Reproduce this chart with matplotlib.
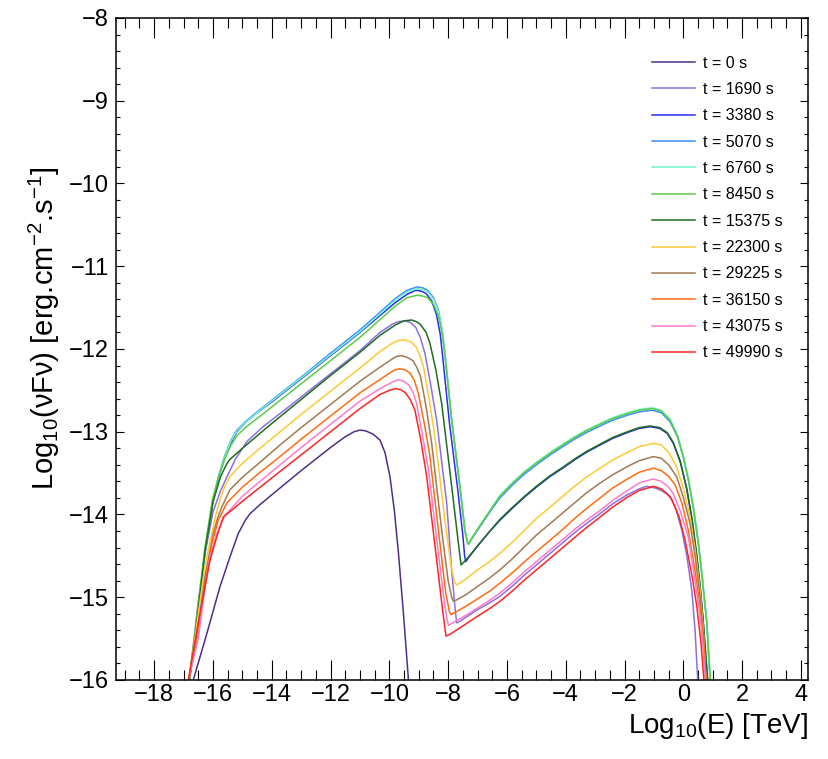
import numpy as np
import matplotlib
matplotlib.use('Agg')
import matplotlib.pyplot as plt
from matplotlib.ticker import MultipleLocator

# SED curves, log10(E/TeV) vs log10(nuFnu)
times = [0, 1690, 3380, 5070, 6760, 8450, 15375, 22300, 29225, 36150, 43075, 49990]
colors = ['#4F2D8C', '#8C6FE3', '#2B2BF5', '#3D8EFF', '#74F5C8', '#5ACD46',
          '#1E6E1E', '#FFC933', '#A27A52', '#FF6B12', '#FF7ACB', '#FF2424']

sed_0 = [(-16.67, -16.0), (-16.21, -15.44), (-15.76, -14.87), (-15.42, -14.51), (-15.14, -14.23),
         (-14.9, -14.07), (-14.74, -13.99), (-14.4, -13.88), (-13.72, -13.68), (-13.0, -13.47),
         (-12.0, -13.19), (-11.5, -13.06), (-11.2, -13.0), (-11.0, -12.98), (-10.8, -12.99),
         (-10.55, -13.03), (-10.32, -13.10), (-10.15, -13.25), (-9.98, -13.54), (-9.83, -13.95),
         (-9.69, -14.47), (-9.52, -15.2), (-9.35, -16.0)]

sed_1690 = [(-16.80, -16.0), (-16.50, -15.05), (-16.27, -14.47), (-16.0, -13.97), (-15.75, -13.72),
            (-15.53, -13.55), (-15.25, -13.34), (-14.85, -13.12), (-14.3, -12.94), (-13.72, -12.78),
            (-13.0, -12.58), (-12.0, -12.30), (-11.0, -12.02), (-10.32, -11.80), (-9.9, -11.70),
            (-9.7, -11.67), (-9.47, -11.66), (-9.28, -11.68), (-9.1, -11.74), (-8.95, -11.86),
            (-8.79, -12.05), (-8.6, -12.42), (-8.39, -12.86), (-8.05, -13.86), (-7.88, -14.67),
            (-7.78, -15.08), (-7.71, -15.31), (-7.6, -15.29), (-7.3, -15.22), (-7.0, -15.15),
            (-6.6, -15.07), (-6.24, -14.99), (-5.8, -14.86), (-5.4, -14.73), (-5.0, -14.61),
            (-4.53, -14.47), (-4.1, -14.34), (-3.7, -14.22), (-3.3, -14.11), (-2.83, -13.99),
            (-2.4, -13.87), (-1.9, -13.76), (-1.5, -13.69), (-1.25, -13.66), (-0.95, -13.68),
            (-0.7, -13.72), (-0.45, -13.78), (-0.25, -13.94), (-0.05, -14.19), (0.12, -14.5),
            (0.29, -14.92), (0.4, -15.4), (0.49, -16.0)]

sed_3380 = [(-16.80, -16.0), (-16.62, -15.5), (-16.45, -15.0), (-16.27, -14.45), (-16.0, -13.84),
            (-15.8, -13.54), (-15.6, -13.31), (-15.4, -13.14), (-15.19, -13.0), (-14.9, -12.89),
            (-14.5, -12.77), (-14.0, -12.64), (-13.0, -12.36), (-12.0, -12.08), (-11.0, -11.80),
            (-10.3, -11.59), (-9.8, -11.44), (-9.4, -11.34), (-9.1, -11.29), (-8.92, -11.30),
            (-8.75, -11.33), (-8.56, -11.42), (-8.40, -11.58), (-8.27, -11.82), (-8.19, -12.08),
            (-7.96, -12.88), (-7.68, -13.68), (-7.50, -14.25), (-7.44, -14.50), (-7.40, -14.57),
            (-7.3, -14.52), (-7.0, -14.38), (-6.6, -14.21), (-6.24, -14.07), (-5.8, -13.92),
            (-5.4, -13.79), (-5.0, -13.67), (-4.53, -13.54), (-4.1, -13.44), (-3.7, -13.34),
            (-3.3, -13.25), (-2.83, -13.16), (-2.4, -13.08), (-1.9, -13.01), (-1.5, -12.96),
            (-1.13, -12.94), (-0.8, -12.96), (-0.55, -13.02), (-0.34, -13.14), (-0.1, -13.36),
            (0.12, -13.70), (0.3, -14.07), (0.46, -14.51), (0.58, -14.9), (0.68, -15.31), (0.82, -16.0)]

sed_5070 = [(-16.80, -16.0), (-16.62, -15.5), (-16.45, -15.0), (-16.27, -14.44), (-16.0, -13.82),
            (-15.8, -13.52), (-15.6, -13.29), (-15.4, -13.11), (-15.19, -12.98), (-14.9, -12.88),
            (-14.5, -12.76), (-14.0, -12.62), (-13.0, -12.34), (-12.0, -12.05), (-11.0, -11.77),
            (-10.3, -11.55), (-9.8, -11.39), (-9.4, -11.29), (-9.05, -11.25), (-8.87, -11.26),
            (-8.7, -11.29), (-8.5, -11.38), (-8.33, -11.53), (-8.2, -11.78), (-8.11, -12.05),
            (-7.88, -12.86), (-7.6, -13.66), (-7.43, -14.19), (-7.35, -14.33), (-7.31, -14.36),
            (-7.22, -14.31), (-7.0, -14.19), (-6.6, -13.98), (-6.24, -13.80), (-5.8, -13.64),
            (-5.4, -13.51), (-5.0, -13.40), (-4.53, -13.28), (-4.1, -13.18), (-3.7, -13.09),
            (-3.3, -13.01), (-2.83, -12.93), (-2.4, -12.86), (-1.9, -12.80), (-1.5, -12.76),
            (-1.05, -12.74), (-0.75, -12.77), (-0.45, -12.88), (-0.2, -13.06), (0.0, -13.31),
            (0.17, -13.58), (0.34, -13.92), (0.5, -14.32), (0.63, -14.72), (0.8, -15.32), (0.91, -16.0)]

sed_6760 = [(-16.80, -16.0), (-16.62, -15.5), (-16.45, -15.0), (-16.27, -14.44), (-16.0, -13.82),
            (-15.8, -13.53), (-15.6, -13.30), (-15.4, -13.12), (-15.19, -12.99), (-14.9, -12.89),
            (-14.5, -12.77), (-14.0, -12.63), (-13.0, -12.35), (-12.0, -12.07), (-11.0, -11.79),
            (-10.3, -11.57), (-9.8, -11.41), (-9.4, -11.31), (-9.05, -11.27), (-8.87, -11.28),
            (-8.7, -11.31), (-8.5, -11.40), (-8.33, -11.55), (-8.2, -11.79), (-8.11, -12.05),
            (-7.88, -12.86), (-7.6, -13.66), (-7.43, -14.19), (-7.35, -14.33), (-7.31, -14.36),
            (-7.22, -14.30), (-7.0, -14.17), (-6.6, -13.96), (-6.24, -13.77), (-5.8, -13.61),
            (-5.4, -13.48), (-5.0, -13.37), (-4.53, -13.25), (-4.1, -13.15), (-3.7, -13.06),
            (-3.3, -12.98), (-2.83, -12.90), (-2.4, -12.83), (-1.9, -12.77), (-1.5, -12.73),
            (-1.05, -12.71), (-0.75, -12.74), (-0.45, -12.85), (-0.2, -13.04), (0.0, -13.29),
            (0.17, -13.56), (0.34, -13.90), (0.5, -14.30), (0.63, -14.70), (0.8, -15.30), (0.92, -16.0)]

sed_8450 = [(-16.82, -16.0), (-16.64, -15.5), (-16.47, -15.0), (-16.29, -14.44), (-16.02, -13.82),
            (-15.8, -13.54), (-15.6, -13.33), (-15.4, -13.17), (-15.19, -13.05), (-14.9, -12.95),
            (-14.5, -12.84), (-14.0, -12.70), (-13.0, -12.42), (-12.0, -12.14), (-11.0, -11.86),
            (-10.3, -11.64), (-9.8, -11.48), (-9.4, -11.38), (-9.05, -11.35), (-8.87, -11.36),
            (-8.7, -11.38), (-8.5, -11.46), (-8.33, -11.60), (-8.2, -11.83), (-8.11, -12.07),
            (-7.88, -12.86), (-7.6, -13.66), (-7.43, -14.19), (-7.35, -14.33), (-7.31, -14.36),
            (-7.22, -14.30), (-7.0, -14.18), (-6.6, -13.97), (-6.24, -13.78), (-5.8, -13.62),
            (-5.4, -13.49), (-5.0, -13.38), (-4.53, -13.26), (-4.1, -13.16), (-3.7, -13.07),
            (-3.3, -12.99), (-2.83, -12.91), (-2.4, -12.84), (-1.9, -12.78), (-1.5, -12.74),
            (-1.05, -12.72), (-0.75, -12.75), (-0.45, -12.86), (-0.2, -13.05), (0.0, -13.30),
            (0.17, -13.57), (0.34, -13.91), (0.5, -14.31), (0.63, -14.71), (0.8, -15.31), (0.92, -16.0)]

sed_15375 = [(-16.80, -16.0), (-16.62, -15.5), (-16.45, -15.0), (-16.27, -14.44), (-16.0, -13.85),
             (-15.75, -13.55), (-15.55, -13.40), (-15.44, -13.34), (-15.0, -13.20), (-14.0, -12.90),
             (-13.0, -12.61), (-12.0, -12.32), (-11.0, -12.04), (-10.3, -11.83), (-9.8, -11.71),
             (-9.5, -11.66), (-9.24, -11.65), (-9.08, -11.67), (-8.95, -11.70), (-8.75, -11.80),
             (-8.62, -11.93), (-8.42, -12.25), (-8.22, -12.66), (-7.88, -13.66), (-7.7, -14.2),
             (-7.6, -14.5), (-7.56, -14.61), (-7.45, -14.57), (-7.3, -14.51), (-7.0, -14.38),
             (-6.6, -14.21), (-6.24, -14.06), (-5.8, -13.91), (-5.4, -13.78), (-5.0, -13.66),
             (-4.53, -13.53), (-4.1, -13.43), (-3.7, -13.33), (-3.3, -13.24), (-2.83, -13.15),
             (-2.4, -13.07), (-1.9, -13.0), (-1.5, -12.95), (-1.13, -12.93), (-0.8, -12.95),
             (-0.55, -13.01), (-0.34, -13.13), (-0.1, -13.37), (0.12, -13.69), (0.3, -14.06),
             (0.46, -14.50), (0.58, -14.9), (0.68, -15.30), (0.83, -16.0)]

sed_22300 = [(-16.81, -16.0), (-16.5, -15.2), (-16.27, -14.62), (-16.04, -14.23), (-15.9, -14.0),
             (-15.76, -13.82), (-15.6, -13.66), (-15.42, -13.54), (-15.0, -13.38), (-14.5, -13.23),
             (-13.72, -13.0), (-13.0, -12.79), (-12.0, -12.51), (-11.0, -12.23), (-10.32, -12.03),
             (-9.9, -11.93), (-9.7, -11.90), (-9.47, -11.89), (-9.25, -11.92), (-9.1, -11.97),
             (-8.97, -12.07), (-8.84, -12.21), (-8.65, -12.6), (-8.45, -13.06), (-8.11, -14.07),
             (-7.9, -14.62), (-7.78, -14.82), (-7.71, -14.85), (-7.6, -14.83), (-7.4, -14.78),
             (-7.0, -14.67), (-6.6, -14.57), (-6.24, -14.47), (-5.8, -14.33), (-5.4, -14.19),
             (-5.0, -14.05), (-4.53, -13.91), (-4.1, -13.78), (-3.7, -13.66), (-3.3, -13.55),
             (-2.83, -13.44), (-2.4, -13.34), (-1.9, -13.25), (-1.5, -13.18), (-1.02, -13.14),
             (-0.75, -13.16), (-0.5, -13.25), (-0.23, -13.42), (0.0, -13.68), (0.23, -14.03),
             (0.4, -14.42), (0.57, -14.92), (0.68, -15.4), (0.77, -16.0)]

sed_29225 = [(-16.82, -16.0), (-16.5, -15.35), (-16.27, -14.75), (-15.99, -14.23), (-15.85, -14.05),
             (-15.70, -13.91), (-15.42, -13.70), (-15.0, -13.55), (-14.5, -13.40), (-13.72, -13.16),
             (-13.0, -12.95), (-12.0, -12.67), (-11.0, -12.39), (-10.32, -12.22), (-9.9, -12.12),
             (-9.75, -12.09), (-9.58, -12.08), (-9.4, -12.10), (-9.2, -12.14), (-9.07, -12.22),
             (-8.94, -12.33), (-8.75, -12.7), (-8.56, -13.14), (-8.22, -14.19), (-8.0, -14.8),
             (-7.88, -15.0), (-7.82, -15.05), (-7.7, -15.03), (-7.4, -14.97), (-7.0, -14.87),
             (-6.6, -14.77), (-6.24, -14.67), (-5.8, -14.53), (-5.4, -14.39), (-5.0, -14.25),
             (-4.53, -14.11), (-4.1, -13.98), (-3.7, -13.86), (-3.3, -13.74), (-2.83, -13.62),
             (-2.4, -13.52), (-1.9, -13.42), (-1.5, -13.35), (-1.02, -13.30), (-0.75, -13.32),
             (-0.5, -13.40), (-0.23, -13.54), (0.0, -13.79), (0.23, -14.11), (0.4, -14.5),
             (0.57, -14.99), (0.68, -15.45), (0.77, -16.0)]

sed_36150 = [(-16.83, -16.0), (-16.5, -15.45), (-16.27, -14.85), (-16.04, -14.35), (-15.92, -14.2),
             (-15.82, -14.07), (-15.53, -13.86), (-15.0, -13.67), (-14.5, -13.52), (-13.72, -13.30),
             (-13.0, -13.09), (-12.0, -12.81), (-11.0, -12.53), (-10.32, -12.37), (-9.9, -12.27),
             (-9.8, -12.25), (-9.64, -12.24), (-9.47, -12.25), (-9.3, -12.29), (-9.15, -12.38),
             (-9.01, -12.54), (-8.8, -12.92), (-8.62, -13.30), (-8.28, -14.35), (-8.08, -14.95),
             (-7.96, -15.17), (-7.91, -15.21), (-7.8, -15.19), (-7.4, -15.11), (-7.0, -15.02),
             (-6.6, -14.93), (-6.24, -14.83), (-5.8, -14.70), (-5.4, -14.57), (-5.0, -14.45),
             (-4.53, -14.31), (-4.1, -14.18), (-3.7, -14.05), (-3.3, -13.93), (-2.83, -13.80),
             (-2.4, -13.68), (-1.9, -13.57), (-1.5, -13.49), (-1.02, -13.44), (-0.75, -13.47),
             (-0.5, -13.54), (-0.28, -13.64), (-0.05, -13.86), (0.17, -14.19), (0.4, -14.68),
             (0.57, -15.11), (0.68, -15.5), (0.77, -16.0)]

sed_43075 = [(-16.84, -16.0), (-16.5, -15.5), (-16.3, -14.95), (-16.1, -14.51), (-15.87, -14.23),
             (-15.59, -14.01), (-15.0, -13.78), (-14.5, -13.63), (-13.72, -13.40), (-13.0, -13.19),
             (-12.0, -12.91), (-11.0, -12.63), (-10.32, -12.48), (-9.9, -12.40), (-9.69, -12.37),
             (-9.52, -12.39), (-9.35, -12.43), (-9.2, -12.52), (-9.07, -12.66), (-8.87, -13.05),
             (-8.67, -13.46), (-8.33, -14.47), (-8.12, -15.08), (-8.03, -15.28), (-7.99, -15.34),
             (-7.9, -15.32), (-7.5, -15.24), (-7.0, -15.13), (-6.6, -15.04), (-6.24, -14.95),
             (-5.8, -14.82), (-5.4, -14.69), (-5.0, -14.57), (-4.53, -14.43), (-4.1, -14.30),
             (-3.7, -14.18), (-3.3, -14.07), (-2.83, -13.95), (-2.4, -13.83), (-1.9, -13.71),
             (-1.5, -13.62), (-1.02, -13.57), (-0.75, -13.60), (-0.5, -13.67), (-0.34, -13.75),
             (-0.1, -13.96), (0.17, -14.27), (0.4, -14.8), (0.57, -15.23), (0.67, -15.6), (0.75, -16.0)]

sed_49990 = [(-16.84, -16.0), (-16.44, -15.19), (-16.1, -14.55), (-15.87, -14.27), (-15.65, -14.03),
             (-15.3, -13.93), (-15.0, -13.84), (-14.5, -13.70), (-13.72, -13.48), (-13.0, -13.28),
             (-12.0, -13.0), (-11.0, -12.72), (-10.32, -12.55), (-10.0, -12.50), (-9.81, -12.48),
             (-9.62, -12.49), (-9.45, -12.53), (-9.29, -12.61), (-9.13, -12.74), (-8.93, -13.1),
             (-8.73, -13.54), (-8.39, -14.55), (-8.18, -15.18), (-8.10, -15.40), (-8.07, -15.47),
             (-7.95, -15.45), (-7.6, -15.37), (-7.0, -15.23), (-6.6, -15.14), (-6.24, -15.05),
             (-5.8, -14.92), (-5.4, -14.79), (-5.0, -14.67), (-4.53, -14.53), (-4.1, -14.40),
             (-3.7, -14.28), (-3.3, -14.16), (-2.83, -14.03), (-2.4, -13.91), (-1.9, -13.79),
             (-1.5, -13.71), (-1.02, -13.66), (-0.75, -13.69), (-0.55, -13.75), (-0.39, -13.82),
             (-0.15, -14.02), (0.06, -14.31), (0.3, -14.75), (0.46, -15.11), (0.6, -15.55), (0.70, -16.0)]

curves = [sed_0, sed_1690, sed_3380, sed_5070, sed_6760, sed_8450,
          sed_15375, sed_22300, sed_29225, sed_36150, sed_43075, sed_49990]

plt.rcParams['font.family'] = ['Liberation Sans', 'DejaVu Sans']
plt.rcParams['mathtext.default'] = 'regular'

fig = plt.figure(figsize=(8.29, 7.59), dpi=100)
ax = fig.add_axes([0.1399, 0.1041, 0.8347, 0.8722])

for t, pts, col in zip(times, curves, colors):
    arr = np.array(pts)
    ax.plot(arr[:, 0], arr[:, 1], color=col, lw=1.1, label=f't = {t} s')

ax.set_xlim(-19.3, 4.24)
ax.set_ylim(-16, -8)
ax.xaxis.set_major_locator(MultipleLocator(2))
ax.xaxis.set_minor_locator(MultipleLocator(0.5))
ax.yaxis.set_major_locator(MultipleLocator(1))
ax.yaxis.set_minor_locator(MultipleLocator(0.2))

ax.tick_params(which='both', direction='in', top=True, right=True, width=0.8,
               labelsize=17)
ax.tick_params(axis='x', which='major', length=14.4, pad=3)
ax.tick_params(axis='x', which='minor', length=7.2)
ax.tick_params(axis='y', which='major', length=6, pad=5)
ax.tick_params(axis='y', which='minor', length=3)
for sp in ax.spines.values():
    sp.set_linewidth(1.1)

fig.text(808 / 829, 1 - 733 / 759, r'Log$_{10}$(E) [TeV]', ha='right', va='baseline', fontsize=20)
fig.text(0.053, 1 - 328 / 759, r'Log$_{10}$(νFν) [erg.cm$^{-2}$.s$^{-1}$]',
         rotation=90, ha='center', va='center', fontsize=21)

ax.legend(loc='upper left', bbox_to_anchor=(0.775, 0.943), frameon=False, fontsize=11.5,
          handlelength=2.7, handletextpad=0.5, labelspacing=0.71, borderpad=0, borderaxespad=0)

fig.savefig('out.png', dpi=100)
